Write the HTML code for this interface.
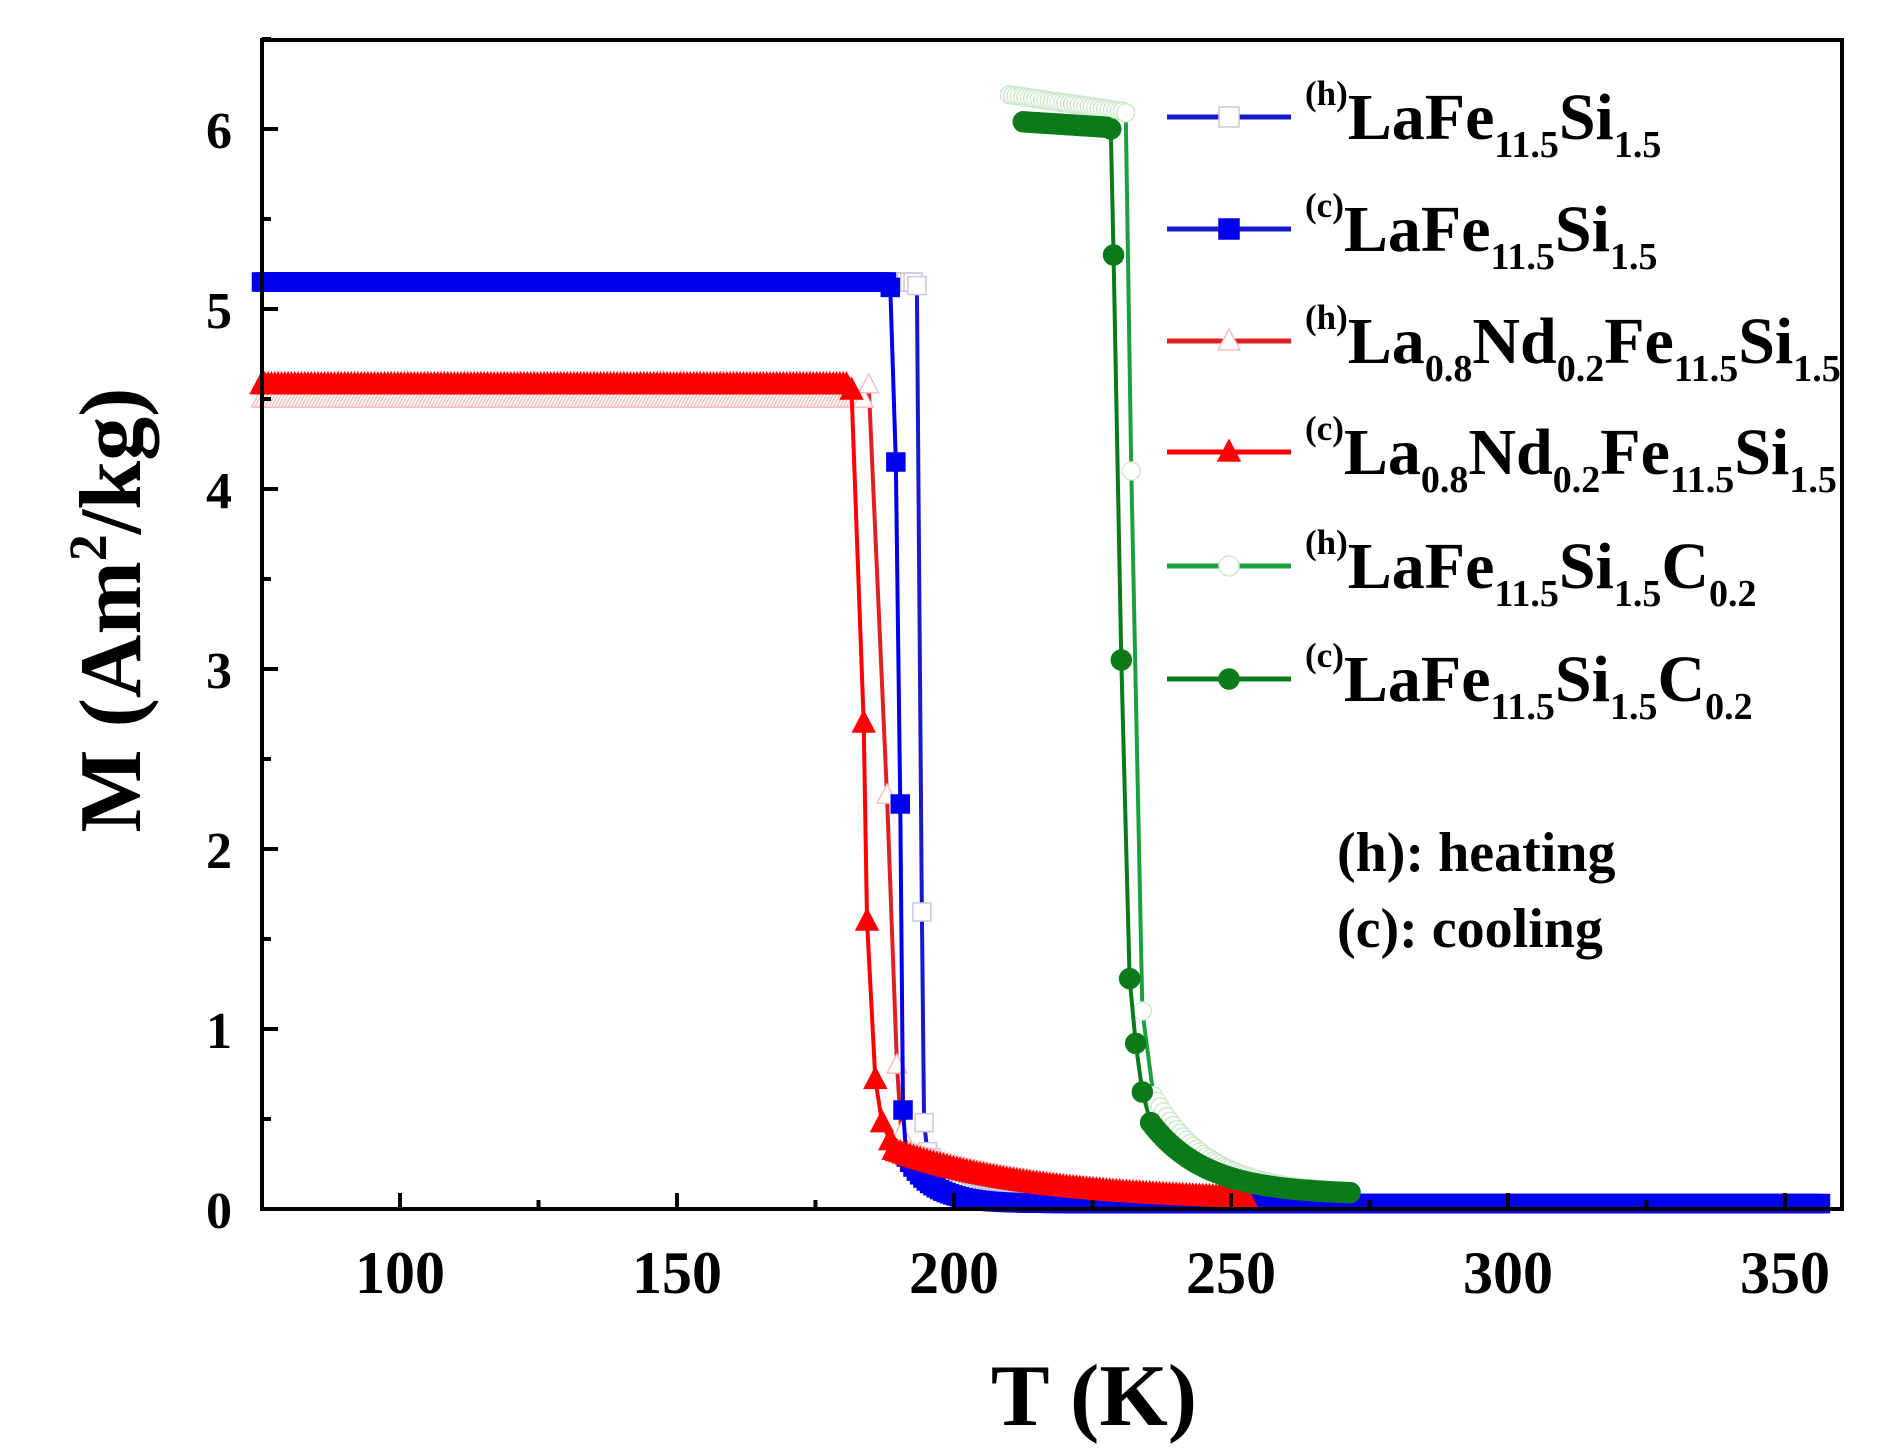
<!DOCTYPE html>
<html><head><meta charset="utf-8"><style>
html,body{margin:0;padding:0;background:#fff;}
svg{display:block;font-family:"Liberation Serif",serif;font-weight:bold;}
</style></head><body>
<svg id="s" width="1882" height="1453" viewBox="0 0 1882 1453" xmlns="http://www.w3.org/2000/svg">
<rect width="1882" height="1453" fill="#fff"/>
<g id="data"></g>
<rect x="262" y="40" width="1580" height="1169" fill="none" stroke="#000" stroke-width="4"/>
<g id="ticks" stroke="#000" stroke-width="4"></g>
<g font-size="60" text-anchor="middle">
<text x="400" y="1293">100</text><text x="677" y="1293">150</text><text x="954" y="1293">200</text>
<text x="1231" y="1293">250</text><text x="1508" y="1293">300</text><text x="1785" y="1293">350</text>
</g>
<g font-size="52" text-anchor="end">
<text x="232" y="1228">0</text><text x="232" y="1048">1</text><text x="232" y="868">2</text>
<text x="232" y="688">3</text><text x="232" y="508">4</text><text x="232" y="328">5</text><text x="232" y="148">6</text>
</g>
<text x="1094" y="1425" font-size="88" text-anchor="middle">T (K)</text>
<text transform="translate(140,610) rotate(-90)" font-size="88" text-anchor="middle">M (Am<tspan font-size="54" dy="-34">2</tspan><tspan dy="34">/kg)</tspan></text>
<g id="leg"></g>
<g font-size="56"><text x="1337" y="871">(h): heating</text><text x="1337" y="947">(c): cooling</text></g>
</svg>
<script>
const NS="http://www.w3.org/2000/svg";
const X=T=>400+(T-100)*5.54, Y=M=>1209-M*180;
const data=document.getElementById('data');
function el(tag,attrs,parent){const e=document.createElementNS(NS,tag);for(const k in attrs)e.setAttribute(k,attrs[k]);(parent||data).appendChild(e);return e;}
const tk=document.getElementById('ticks');
for(let T=100;T<=350;T+=25){const l=(T%50==0)?16:9;el('line',{x1:X(T),x2:X(T),y1:1209,y2:1209-l},tk);}
for(let M=0.5;M<=6.5;M+=0.5){const l=(M%1==0)?16:9;el('line',{x1:262,x2:262+l,y1:Y(M),y2:Y(M)},tk);}
function series(flat,pts,tail){
  let p=[];
  const f=(typeof flat[2]=='function')?flat[2]:(()=>flat[2]);
  for(let T=flat[0];T<=flat[1];T+=0.6)p.push([T,f(T)]);
  p=p.concat(pts);
  for(let T=tail[0];T<=tail[1];T+=0.6)p.push([T,tail[2](T)]);
  return p;
}
function marker(type,x,y,fill,stroke,s,parent){
  if(type=='sq')el('rect',{x:x-s/2,y:y-s/2,width:s,height:s,fill:fill,stroke:stroke,'stroke-width':1.5},parent);
  else if(type=='tri')el('polygon',{points:`${x},${y-s*0.6} ${x-s*0.55},${y+s*0.45} ${x+s*0.55},${y+s*0.45}`,fill:fill,stroke:stroke,'stroke-width':1.5},parent);
  else el('circle',{cx:x,cy:y,r:s/2,fill:fill,stroke:stroke,'stroke-width':1.5},parent);
}
function draw(p,line,type,fill,stroke,s){
  el('polyline',{points:p.map(q=>X(q[0])+','+Y(q[1])).join(' '),fill:'none',stroke:line,'stroke-width':4});
  p.forEach(q=>marker(type,X(q[0]),Y(q[1]),fill,stroke,s));
}
const bh=series([75,193,5.15],[[193.3,5.13],[194.2,1.65],[194.6,0.48]],[195.2,300,T=>0.03+0.3*Math.exp(-(T-195)/5)]);
const bc=series([75,188,5.15],[[188.5,5.12],[189.5,4.15],[190.3,2.25],[190.8,0.55]],[191.4,357,T=>0.03+0.28*Math.exp(-(T-191)/5)]);
const rh=series([75,184,4.5],[[184.6,4.58],[187.9,2.3],[189.7,0.8],[190.5,0.42]],[191.1,253,T=>0.04+0.3*Math.exp(-(T-190)/25)]);
const rc=series([75,181,4.58],[[181.5,4.55],[183.7,2.7],[184.3,1.6],[185.8,0.72],[187,0.48],[188.5,0.38]],[189.1,253,T=>0.04+0.3*Math.exp(-(T-188)/25)]);
const gh=series([210,230.5,T=>6.19-(T-210)*0.0045],[[231,6.09],[232,4.1],[234,1.1]],[236,272,T=>0.08+0.55*Math.exp(-(T-236)/10)]);
const gc=series([212.5,227.8,T=>6.04-(T-212.5)*0.002],[[228.3,6.0],[228.8,5.3],[230.2,3.05],[231.7,1.28],[232.8,0.92],[234,0.65],[235.5,0.48]],[236.1,272,T=>0.08+0.4*Math.exp(-(T-235.5)/10)]);
draw(bh,'#1a1acc','sq','#fff','#c8c8e0',18);
draw(rh,'#e02020','tri','#fff','#f4c0c0',18);
draw(bc,'#0000ee','sq','#0000ee','#0000ee',18);
draw(rc,'#ff0000','tri','#ff0000','#ff0000',20);
draw(gh,'#1aa040','circ','#fff','#d0e8d0',18);
draw(gc,'#0a7a1a','circ','#0a7a1a','#0a7a1a',20);
const leg=document.getElementById('leg');
const items=[
 ['#1a1acc','sq','#fff','#ccc','(h)',[['LaFe',0],['11.5',1],['Si',0],['1.5',1]]],
 ['#1a1acc','sq','#0000ee','#0000ee','(c)',[['LaFe',0],['11.5',1],['Si',0],['1.5',1]]],
 ['#e02020','tri','#fff','#f4c0c0','(h)',[['La',0],['0.8',1],['Nd',0],['0.2',1],['Fe',0],['11.5',1],['Si',0],['1.5',1]]],
 ['#ff0000','tri','#ff0000','#ff0000','(c)',[['La',0],['0.8',1],['Nd',0],['0.2',1],['Fe',0],['11.5',1],['Si',0],['1.5',1]]],
 ['#1aa040','circ','#fff','#d0e8d0','(h)',[['LaFe',0],['11.5',1],['Si',0],['1.5',1],['C',0],['0.2',1]]],
 ['#0a7a1a','circ','#0a7a1a','#0a7a1a','(c)',[['LaFe',0],['11.5',1],['Si',0],['1.5',1],['C',0],['0.2',1]]]];
const ly=[117,229,341,452,566,679];
items.forEach((it,i)=>{
  const y=ly[i];
  el('line',{x1:1167,x2:1291,y1:y,y2:y,stroke:it[0],'stroke-width':5},leg);
  marker(it[1],1229,y,it[2],it[3],20,leg);
  const t=el('text',{x:1305,y:y+22,'font-size':66},leg);
  const a=document.createElementNS(NS,'tspan');a.setAttribute('font-size','35');a.setAttribute('dy','-34');a.textContent=it[4];t.appendChild(a);
  let cur=-34;
  it[5].forEach(([s,sub])=>{const ts=document.createElementNS(NS,'tspan');const target=sub?18:0;ts.setAttribute('dy',target-cur);cur=target;if(sub)ts.setAttribute('font-size','38');ts.textContent=s;t.appendChild(ts);});
});
</script>
</body></html>
